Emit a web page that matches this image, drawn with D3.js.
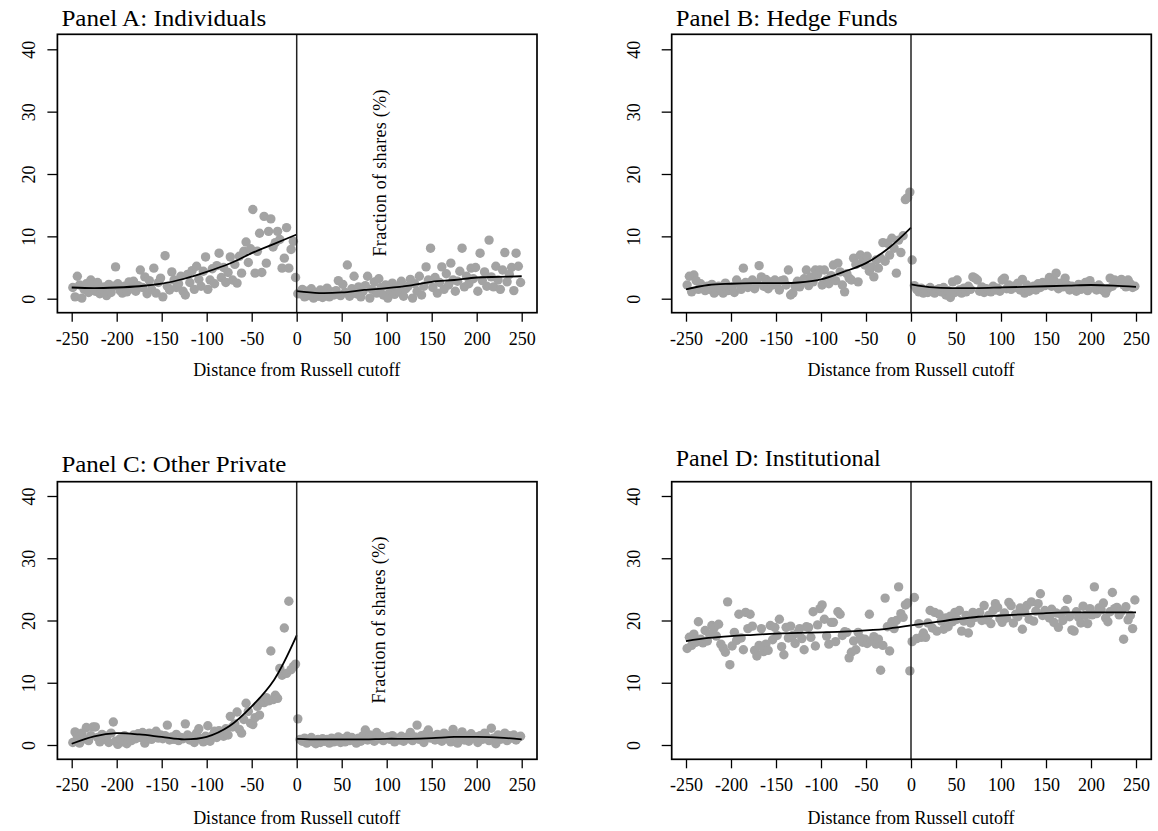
<!DOCTYPE html>
<html><head><meta charset="utf-8">
<script src="https://cdn.jsdelivr.net/npm/d3@7"></script>
<style>
body{margin:0;background:#fff;}
text{font-family:"Liberation Serif","Times New Roman",serif;fill:#000;}
</style></head>
<body><svg id="c" width="1158" height="831"></svg>
<script>
// ---------------- DATA ----------------
const xLeft = d3.range(-248.75, 0, 2.5);   // bin centres, left of cutoff
const xRight = d3.range(1.25, 250, 2.5);   // bin centres, right of cutoff
const curveXLeft = [-250,-225,-200,-175,-150,-125,-100,-75,-50,-25,0];
const curveXRight = [0,25,50,75,100,125,150,175,200,225,250];
const xTicks = [-250,-200,-150,-100,-50,0,50,100,150,200,250];
const yTicks = [0,10,20,30,40];
const panelTitles = ["Panel A: Individuals","Panel B: Hedge Funds","Panel C: Other Private","Panel D: Institutional"];
const xAxisTitle = "Distance from Russell cutoff";
const yAxisTitle = "Fraction of shares (%)";

const indLeft = [1.8,0.3,3.6,2.2,0.1,1.5,2.4,1.0,3.0,2.0, 1.2,2.6,0.8,1.5,1.9,0.5,2.3,1.0,2.0,5.1,
 2.4,1.3,0.9,2.0,1.1,2.7,1.6,2.8,1.2,2.1, 4.6,1.8,3.5,0.8,2.9,1.5,4.9,0.9,2.6,3.3,
 0.3,6.9,2.0,1.4,4.3,3.0,1.8,2.4,3.6,1.2, 0.6,3.9,2.6,4.5,1.5,5.2,3.1,2.0,4.4,6.7,
 1.5,3.0,4.8,2.4,5.3,7.3,3.4,5.0,2.6,4.2, 6.7,3.0,5.5,2.5,6.8,4.1,7.6,9.1,5.8,8.0,
 14.3,4.1,7.6,10.5,4.2,13.2,5.7,10.8,12.8,8.3, 9.0,10.8,9.5,4.9,6.5,11.4,4.9,7.9,9.2,3.4];
const indRight = [0.8,0.8,1.5,0.3,1.2,0.5,1.6,0.1,1.0,0.4, 1.4,0.2,0.9,1.7,0.3,1.1,0.6,1.3,2.9,0.5,
 2.3,1.0,5.4,0.4,1.6,3.6,0.8,1.9,0.3,1.2, 2.1,3.6,0.1,1.5,2.7,0.9,3.2,1.8,0.6,2.2,
 0.1,1.4,2.5,0.7,1.9,1.1,2.8,0.4,1.6,2.0, 3.1,0.1,2.4,1.2,3.6,0.6,2.0,5.1,3.0,8.1,
 1.8,3.4,0.9,2.6,5.1,1.5,4.0,2.2,5.7,3.0, 1.2,2.8,4.4,8.1,1.9,3.6,2.4,4.9,3.2,5.0,
 1.2,7.3,2.9,4.3,2.0,9.4,3.5,1.9,5.2,3.0, 1.5,4.6,7.4,2.7,3.9,5.0,1.3,7.3,5.2,2.6];
const hfLeft = [2.2,3.6,1.1,3.8,2.9,1.5,2.4,1.8,1.3,2.0, 1.5,2.3,0.9,1.2,2.0,1.6,0.9,2.5,1.3,1.4,
 1.9,1.0,3.0,2.4,1.5,4.9,2.6,1.8,2.2,3.0, 1.6,2.5,5.3,3.5,2.0,3.1,1.6,2.7,2.2,3.0,
 2.5,1.4,2.9,3.0,2.2,4.6,0.6,0.9,2.0,2.8, 1.9,2.6,3.2,4.6,2.1,3.5,2.7,4.6,3.9,4.6,
 2.2,4.6,3.0,2.4,3.7,5.4,2.9,5.7,4.3,2.2, 1.1,4.0,3.3,3.0,6.5,5.5,2.7,7.0,6.0,5.4,
 6.8,4.4,5.1,3.5,6.2,4.9,6.5,9.0,6.0,8.9, 7.0,9.7,8.1,4.1,9.4,7.4,10.1,15.9,16.2,17.1];
const hfRight = [6.2,2.1,1.5,1.1,1.7,0.9,1.3,1.0,1.8,1.2, 0.9,1.4,1.6,1.1,1.8,0.6,1.3,0.2,2.7,1.0,
 3.0,1.4,0.9,1.7,1.1,2.0,1.5,3.5,3.3,3.0, 1.2,1.9,1.0,1.6,1.3,1.1,2.0,1.4,1.7,1.2,
 3.0,3.3,1.6,2.2,1.5,2.0,1.8,2.5,1.4,3.1, 0.9,2.2,1.2,1.6,2.0,1.4,2.4,1.8,2.6,2.1,
 2.4,3.4,2.0,3.0,4.1,1.6,2.5,1.9,3.3,2.2, 1.4,2.0,1.6,1.2,2.3,1.5,1.8,2.6,1.3,2.9,
 2.1,1.7,1.4,2.2,1.8,1.3,0.9,1.6,3.3,2.0, 3.0,2.5,2.8,3.1,2.2,1.9,3.0,2.4,1.8,2.0];
const othLeft = [0.4,2.1,1.4,0.3,1.9,1.0,2.8,0.7,1.5,2.9, 2.9,1.2,0.5,1.7,0.9,1.4,0.4,1.9,3.7,0.6,
 0.1,1.0,0.5,1.5,0.2,1.1,0.7,1.6,1.0,1.8, 1.2,2.0,0.3,1.4,1.9,0.9,1.5,2.2,1.1,1.6,
 1.0,1.5,3.2,0.8,1.3,0.9,1.7,0.7,1.2,1.0, 3.4,1.6,0.8,1.3,0.4,1.9,2.6,1.0,0.5,1.4,
 3.1,0.6,1.5,2.2,1.2,2.3,1.8,1.4,2.6,1.6, 4.6,2.9,3.4,5.3,2.5,1.9,4.1,6.7,5.4,3.5,
 3.3,4.4,6.2,4.8,7.0,6.8,7.6,7.1,15.1,7.3, 8.0,7.5,12.3,11.2,18.8,11.5,23.1,12.1,12.6,13.0];
const othRight = [4.2,0.9,0.6,1.1,0.3,0.8,1.2,0.5,0.2,0.9, 0.4,1.0,0.6,0.9,0.3,1.1,0.5,0.8,1.3,0.4,
 1.0,0.5,1.4,0.7,1.2,0.9,0.3,1.1,0.6,1.5, 2.4,0.8,1.6,1.2,0.6,2.0,1.0,1.4,0.7,1.1,
 1.3,0.9,1.5,0.5,1.1,0.8,1.4,0.6,1.2,1.0, 2.0,0.7,1.3,3.2,0.9,1.5,0.4,1.8,2.4,1.1,
 1.4,0.8,1.7,1.2,0.6,1.9,1.0,1.5,0.5,2.5, 1.6,0.3,1.2,2.1,0.8,1.4,0.6,1.8,1.1,1.3,
 0.4,1.5,0.9,1.9,1.2,0.7,2.7,1.1,0.2,1.6, 0.9,1.3,1.9,0.7,1.5,1.1,1.6,0.8,1.2,1.4];
const instLeft = [15.5,17.3,16.0,17.8,16.5,19.8,17.0,16.4,18.4,16.7, 17.8,19.2,18.8,17.5,19.4,16.2,15.6,14.9,23.0,12.9,
 15.9,18.1,16.8,21.0,17.2,15.3,21.3,18.7,21.0,19.1, 15.2,14.3,16.0,18.7,15.0,16.2,15.2,19.2,16.9,18.9,
 17.6,20.2,15.8,14.5,18.9,17.2,19.1,17.6,16.3,18.0, 18.7,17.1,15.3,19.0,18.9,17.3,21.4,15.9,19.3,21.9,
 22.5,20.2,17.5,16.2,19.7,19.7,16.6,21.4,21.0,17.6, 18.2,18.1,14.0,14.9,16.7,15.3,18.1,17.2,16.5,17.0,
 16.3,21.0,16.7,17.4,16.2,17.0,12.0,16.0,23.6,19.0, 15.1,19.8,18.7,20.0,25.4,21.1,20.5,22.5,22.8,11.9];
const instRight = [16.6,23.7,17.1,19.5,17.3,18.0,17.3,19.6,21.6,18.8, 21.3,18.3,21.0,19.9,18.6,20.4,19.0,20.7,19.8,21.3,
 20.2,21.6,18.3,19.9,20.8,18.0,19.6,21.3,20.5,21.0, 21.3,20.0,22.4,20.1,20.8,19.5,21.6,22.7,22.1,20.3,
 19.7,21.2,20.4,22.9,22.4,19.6,21.0,20.6,22.0,18.6, 21.3,22.4,20.2,23.0,19.9,21.5,22.7,24.3,20.8,21.6,
 21.0,20.4,21.8,19.7,21.2,18.9,21.0,20.0,21.6,23.4, 20.6,18.5,18.3,21.4,20.5,19.6,22.3,20.8,19.5,21.9,
 20.9,25.4,21.1,22.0,21.7,22.8,20.4,19.8,21.4,24.5, 21.9,22.1,20.9,21.5,17.0,22.2,20.1,20.8,18.7,23.3];

const indCurveLeft  = [1.8,1.7,1.8,2.0,2.4,3.2,4.3,5.6,7.3,8.8,10.3];
const indCurveRight = [1.2,0.9,1.0,1.4,1.7,2.1,2.7,3.0,3.4,3.5,3.6];
const hfCurveLeft   = [1.5,2.2,2.4,2.5,2.5,2.6,3.1,4.3,5.7,8.1,11.4];
const hfCurveRight  = [2.3,1.8,1.7,1.7,1.8,1.9,2.0,2.1,2.2,2.1,1.9];
const othCurveLeft  = [0.2,1.4,1.9,1.7,1.3,0.9,1.3,3.0,6.2,10.5,17.6];
const othCurveRight = [1.0,0.9,0.9,0.9,1.0,1.0,1.1,1.3,1.3,1.2,0.9];
const instCurveLeft = [16.7,17.2,17.5,17.7,17.9,18.0,18.1,18.2,18.4,18.7,19.2];
const instCurveRight= [19.2,19.7,20.2,20.6,20.8,21.0,21.2,21.3,21.3,21.3,21.3];

// ---------------- LAYOUT ----------------
const panels = [
 {title:panelTitles[0], L:indLeft, R:indRight, cL:indCurveLeft, cR:indCurveRight, titleW:205,
  bx0:57.4, bx1:537, by0:34.3, by1:312.7, xr:[71.7,521.7], yr:[298.7,49.3], titleY:26, tickLabY:345, xTitleY:376, yLabOff:28, frac:{x:386,y:173}},
 {title:panelTitles[1], L:hfLeft, R:hfRight, cL:hfCurveLeft, cR:hfCurveRight, titleW:222,
  bx0:671.7, bx1:1151.3, by0:34.3, by1:312.7, xr:[686,1136], yr:[298.7,49.3], titleY:26, tickLabY:345, xTitleY:376, yLabOff:38, frac:null},
 {title:panelTitles[2], L:othLeft, R:othRight, cL:othCurveLeft, cR:othCurveRight, titleW:225,
  bx0:57.4, bx1:537, by0:481.7, by1:759.3, xr:[71.7,521.7], yr:[745,496], titleY:472, tickLabY:791, xTitleY:824, yLabOff:28, frac:{x:385,y:620}},
 {title:panelTitles[3], L:instLeft, R:instRight, cL:instCurveLeft, cR:instCurveRight, titleW:205,
  bx0:671.7, bx1:1151.3, by0:481.7, by1:759.3, xr:[686,1136], yr:[745,496], titleY:466, tickLabY:791, xTitleY:824, yLabOff:38, frac:null}
];

const svg = d3.select("#c");
svg.append("rect").attr("width",1158).attr("height",831).attr("fill","#fff");

panels.forEach(p => {
  const g = svg.append("g");
  const x = d3.scaleLinear().domain([-250,250]).range(p.xr);
  const y = d3.scaleLinear().domain([0,40]).range(p.yr);

  // points
  const pts = xLeft.map((v,i)=>[v,p.L[i]]).concat(xRight.map((v,i)=>[v,p.R[i]]));
  g.append("g").selectAll("circle").data(pts).join("circle")
    .attr("cx",d=>x(d[0])).attr("cy",d=>y(d[1])).attr("r",4.7).attr("fill","#a3a3a3");

  // fitted curves
  const line = d3.line().x(d=>x(d[0])).y(d=>y(d[1])).curve(d3.curveCatmullRom.alpha(0.5));
  g.append("path").datum(curveXLeft.map((v,i)=>[v,p.cL[i]])).attr("d",line)
    .attr("fill","none").attr("stroke","#000").attr("stroke-width",1.8);
  g.append("path").datum(curveXRight.map((v,i)=>[v,p.cR[i]])).attr("d",line)
    .attr("fill","none").attr("stroke","#000").attr("stroke-width",1.8);

  // cutoff line
  g.append("line").attr("x1",x(0)).attr("x2",x(0)).attr("y1",p.by0).attr("y2",p.by1)
    .attr("stroke","#222").attr("stroke-width",1.5);

  // box
  g.append("rect").attr("x",p.bx0).attr("y",p.by0).attr("width",p.bx1-p.bx0).attr("height",p.by1-p.by0)
    .attr("fill","none").attr("stroke","#000").attr("stroke-width",1.7);

  // x axis
  const xa = d3.axisBottom(x).tickValues(xTicks).tickSize(9).tickPadding(0).tickFormat(d=>String(d));
  const xg = g.append("g").attr("transform",`translate(0,${p.by1})`).call(xa);
  xg.select(".domain").remove();
  xg.selectAll(".tick line").attr("stroke","#000").attr("stroke-width",1.3);
  xg.selectAll(".tick text").attr("y",p.tickLabY-p.by1).attr("dy",null)
    .style("font-size","18px").style("font-family","'Liberation Serif',serif").attr("fill","#000");

  // y axis
  const ya = d3.axisLeft(y).tickValues(yTicks).tickSize(10).tickFormat(d=>String(d));
  const yg = g.append("g").attr("transform",`translate(${p.bx0},0)`).call(ya);
  yg.select(".domain").remove();
  yg.selectAll(".tick line").attr("stroke","#000").attr("stroke-width",1.3);
  yg.selectAll(".tick text").attr("x",null).attr("dy",null)
    .attr("transform",`translate(${-p.yLabOff+6},0) rotate(-90)`)
    .attr("text-anchor","middle")
    .style("font-size","18px").style("font-family","'Liberation Serif',serif").attr("fill","#000");

  // titles
  g.append("text").attr("x",p.bx0+4).attr("y",p.titleY).text(p.title)
    .attr("textLength",p.titleW).attr("lengthAdjust","spacingAndGlyphs")
    .style("font-size","24px");
  g.append("text").attr("x",x(0)).attr("y",p.xTitleY).attr("text-anchor","middle").text(xAxisTitle)
    .style("font-size","18px");
  if (p.frac) {
    g.append("text").attr("transform",`translate(${p.frac.x},${p.frac.y}) rotate(-90)`)
      .attr("text-anchor","middle").attr("textLength",167).attr("lengthAdjust","spacing")
      .text(yAxisTitle).style("font-size","18px");
  }
});
</script></body></html>
